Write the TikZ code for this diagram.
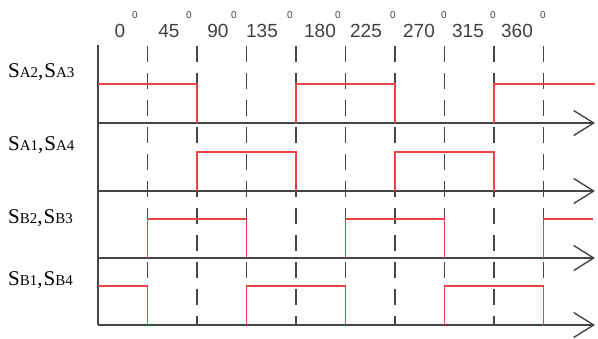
\documentclass[tikz,border=0pt]{standalone}
\usepackage{fontspec}
\setmainfont{Liberation Serif}
\newfontfamily\digitfont{Liberation Sans}
\usetikzlibrary{arrows.meta}
\usepackage{xcolor}
\definecolor{sigred}{RGB}{232,70,70}
\definecolor{axisgray}{RGB}{70,70,70}
\newcommand{\swpair}[2]{S{\fontsize{15}{15}\selectfont #1},\kern1pt S{\fontsize{15}{15}\selectfont #2}}
\tikzset{
  axisline/.style={draw=axisgray,line width=1.6pt},
  timeaxis/.style={axisline,-{Straight Barb[length=20pt,width=25pt,line width=1.4pt]}},
  degmark/.style={draw=axisgray,line width=1.5pt,dash pattern=on 16pt off 11pt},
  wave/.style={draw=sigred,line width=1.4pt},
  deglabel/.style={font=\digitfont\fontsize{19}{19}\selectfont,text=black!75,inner sep=0pt},
  degsup/.style={font=\digitfont\fontsize{10}{10}\selectfont,text=black!75,inner sep=0pt},
  rowlabel/.style={font=\fontsize{21}{21}\selectfont,anchor=west,inner sep=0pt}
}

\begin{document}
\begin{tikzpicture}[x=1pt,y=-1pt]
  \useasboundingbox (0,0) rectangle (598,338);
  % degree marks and labels
  \foreach \k in {1,...,9}{
    \draw[degmark] (98+49.5*\k,46) -- ++(0,280);
  }
  \foreach \deg/\cx/\sx in {0/120/135,45/169/189,90/218/234,135/262/290,180/320/338,
                            225/366/393,270/419/444,315/468/493,360/517/543}{
    \node[deglabel] (n\deg) at (\cx,31){\deg};
    \node[degsup] (s\deg) at (\sx,15){0};
  }
  % axes
  \coordinate (top) at (98,45);
  \foreach \i/\ax in {1/123,2/191,3/258,4/325}{
    \coordinate (o\i) at (98,\ax);
    \coordinate (e\i) at (595,\ax);
    \draw[timeaxis] (o\i) -- (e\i);
  }
  \draw[axisline] (top) -- (o4);
  % switching signals
  \begin{scope}[xshift=98pt,x=49.5pt]
    \draw[wave] (0,84) -- (2,84) -- (2,123);
    \draw[wave] (4,123) -- (4,84) -- (6,84) -- (6,123);
    \draw[wave] (8,123) -- (8,84) -- (10.04,84);
    \draw[wave] (2,191) -- (2,152) -- (4,152) -- (4,191);
    \draw[wave] (6,191) -- (6,152) -- (8,152) -- (8,191);
    \draw[wave] (1,258) -- (1,219) -- (3,219) -- (3,258);
    \draw[wave] (5,258) -- (5,219) -- (7,219) -- (7,258);
    \draw[wave] (9,258) -- (9,219) -- (10,219);
    \draw[wave] (0,286) -- (1,286) -- (1,325);
    \draw[wave] (3,325) -- (3,286) -- (5,286) -- (5,325);
    \draw[wave] (7,325) -- (7,286) -- (9,286) -- (9,325);
  \end{scope}
  % row labels
  \node[rowlabel] (sa23) at (8,72){\swpair{A2}{A3}};
  \node[rowlabel] (sa14) at (8,145){\swpair{A1}{A4}};
  \node[rowlabel] (sb23) at (8,218){\swpair{B2}{B3}};
  \node[rowlabel] (sb14) at (8,280){\swpair{B1}{B4}};
\end{tikzpicture}
\end{document}
